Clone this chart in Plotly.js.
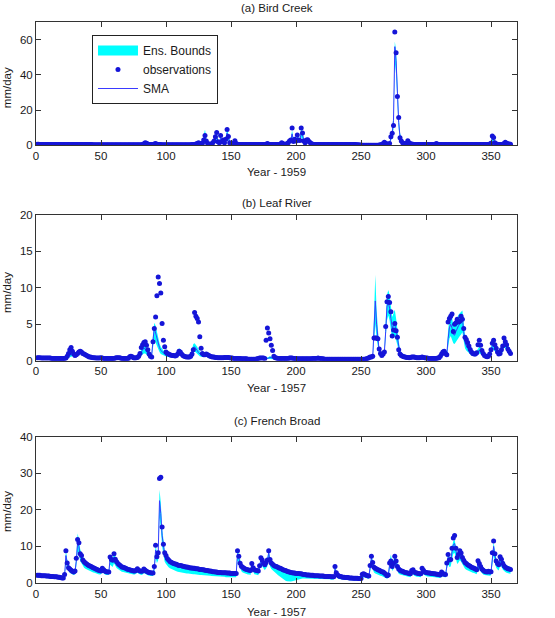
<!DOCTYPE html>
<html>
<head>
<meta charset="utf-8">
<script src="https://cdn.plot.ly/plotly-3.0.1.min.js"></script>
<style>
  html, body { margin: 0; padding: 0; background: #fff; }
  #chart { width: 555px; height: 618px; }
</style>
</head>
<body>
<div id="chart"></div>
<script>
// Daily streamflow (mm/day): observations, SMA simulation and ensemble bounds.

// ---- (a) Bird Creek, 1959 ----
const obsA = [
  0.6,0.6,0.5,0.5,0.5,0.5,0.5,0.4,0.4,0.4,
  0.4,0.4,0.4,0.4,0.4,0.4,0.4,0.4,0.4,0.4,
  0.4,0.4,0.4,0.4,0.4,0.4,0.4,0.4,0.4,0.4,
  0.4,0.4,0.4,0.4,0.4,0.4,0.4,0.4,0.4,0.4,
  0.4,0.4,0.4,0.3,0.3,0.3,0.3,0.3,0.3,0.3,
  0.3,0.3,0.3,0.3,0.3,0.3,0.3,0.3,0.3,0.3,
  0.3,0.3,0.3,0.3,0.3,0.3,0.3,0.3,0.3,0.3,
  0.3,0.3,0.3,0.3,0.3,0.3,0.3,0.3,0.3,0.3,
  0.3,0.4,0.9,1.5,1.1,0.7,0.5,0.4,0.4,0.4,
  0.7,1.0,0.6,0.4,0.4,0.4,0.3,0.3,0.3,0.3,
  0.3,0.3,0.3,0.3,0.3,0.3,0.3,0.3,0.3,0.3,
  0.3,0.3,0.3,0.3,0.3,0.3,0.3,0.3,0.3,0.4,
  0.4,0.5,0.7,1.0,1.5,1.0,0.8,1.2,3.0,5.5,
  2.5,1.0,0.7,0.6,0.8,1.5,2.5,4.9,7.2,2.0,
  1.5,5.5,2.0,3.0,1.5,3.5,9.0,5.0,1.5,0.9,
  0.8,1.2,2.6,1.0,0.6,0.5,0.5,0.4,0.4,0.4,
  0.4,0.4,0.4,0.4,0.4,0.4,0.4,0.4,0.4,0.4,
  0.4,0.4,0.4,0.4,0.4,0.4,0.6,1.0,0.6,0.4,
  0.4,0.4,0.4,0.4,0.4,0.4,0.5,0.8,1.5,1.0,
  0.5,0.6,0.9,1.5,2.5,3.0,9.8,2.2,3.4,2.5,
  5.8,3.0,2.8,9.8,7.0,2.5,1.5,3.0,3.2,2.2,
  1.5,0.9,0.6,0.5,0.5,0.4,0.4,0.4,0.4,0.4,
  0.4,0.4,0.4,0.4,0.4,0.4,0.4,0.4,0.4,0.4,
  0.4,0.4,0.4,0.4,0.4,0.4,0.4,0.4,0.4,0.4,
  0.4,0.4,0.4,0.4,0.4,0.4,0.3,0.3,0.2,0.2,
  0.1,0.1,0.1,0.1,0.1,0.1,0.1,0.1,0.1,0.1,
  0.1,0.1,0.1,0.2,0.3,0.5,1.0,1.7,1.2,0.8,
  0.6,1.0,4.9,6.8,11.3,64.3,52.5,27.7,15.8,4.3,
  2.5,1.5,1.0,0.8,1.2,2.6,1.5,0.9,0.7,0.6,
  0.5,0.5,0.5,0.5,0.4,0.4,0.4,0.4,0.4,0.4,
  0.4,0.4,0.4,0.4,0.4,0.4,0.6,1.0,0.6,0.4,
  0.4,0.4,0.4,0.4,0.4,0.4,0.4,0.4,0.4,0.4,
  0.4,0.4,0.4,0.4,0.4,0.4,0.4,0.4,0.4,0.4,
  0.4,0.4,0.4,0.4,0.4,0.4,0.4,0.4,0.4,0.4,
  0.4,0.4,0.4,0.4,0.4,0.4,0.4,0.5,0.8,1.2,
  5.3,4.5,1.5,0.8,0.6,0.5,0.5,0.5,0.6,1.0,
  1.7,1.2,0.9,0.7,0.6
];
const smaA = [
  0.5,0.5,0.5,0.5,0.4,0.4,0.4,0.4,0.4,0.4,
  0.4,0.4,0.4,0.4,0.4,0.4,0.4,0.4,0.4,0.4,
  0.4,0.4,0.4,0.4,0.4,0.4,0.4,0.4,0.4,0.4,
  0.4,0.4,0.4,0.4,0.4,0.4,0.4,0.4,0.4,0.4,
  0.3,0.3,0.3,0.3,0.3,0.3,0.3,0.3,0.3,0.3,
  0.3,0.3,0.3,0.3,0.3,0.3,0.3,0.3,0.3,0.3,
  0.3,0.3,0.3,0.3,0.3,0.3,0.3,0.3,0.3,0.3,
  0.3,0.3,0.3,0.3,0.3,0.3,0.3,0.3,0.3,0.3,
  0.3,0.3,0.6,1.0,0.9,0.6,0.4,0.4,0.3,0.4,
  0.6,0.7,0.5,0.4,0.3,0.3,0.3,0.3,0.3,0.3,
  0.3,0.3,0.3,0.3,0.3,0.3,0.3,0.3,0.3,0.3,
  0.3,0.3,0.3,0.3,0.3,0.3,0.3,0.3,0.3,0.3,
  0.4,0.5,0.7,0.9,1.2,1.0,0.8,1.5,3.5,5.0,
  2.5,1.2,0.8,0.7,0.8,1.3,2.5,4.0,5.0,2.2,
  1.8,4.0,2.2,2.5,1.8,3.5,7.0,4.5,1.8,1.0,
  0.9,1.2,1.8,1.0,0.6,0.5,0.5,0.4,0.4,0.4,
  0.4,0.4,0.4,0.4,0.4,0.4,0.4,0.4,0.4,0.4,
  0.4,0.4,0.4,0.4,0.4,0.4,0.5,0.8,0.6,0.4,
  0.4,0.4,0.4,0.4,0.4,0.4,0.5,0.7,1.2,0.9,
  0.6,0.7,1.0,1.5,2.2,2.8,6.5,3.0,3.0,2.5,
  4.5,3.2,3.0,7.0,6.0,2.8,1.8,2.8,2.8,2.0,
  1.4,0.9,0.6,0.5,0.5,0.4,0.4,0.4,0.4,0.4,
  0.4,0.4,0.4,0.4,0.4,0.4,0.4,0.4,0.4,0.4,
  0.4,0.4,0.4,0.4,0.4,0.4,0.4,0.4,0.4,0.4,
  0.4,0.4,0.4,0.4,0.4,0.4,0.3,0.3,0.2,0.2,
  0.1,0.1,0.1,0.1,0.1,0.1,0.1,0.1,0.1,0.1,
  0.1,0.1,0.1,0.2,0.3,0.5,0.9,1.5,1.1,0.8,
  0.7,1.2,4.0,7.0,14.0,56.0,48.0,26.0,13.0,5.0,
  2.6,1.6,1.1,0.9,1.1,2.0,1.4,0.9,0.7,0.6,
  0.5,0.5,0.5,0.5,0.4,0.4,0.4,0.4,0.4,0.4,
  0.4,0.4,0.4,0.4,0.4,0.4,0.5,0.8,0.6,0.4,
  0.4,0.4,0.4,0.4,0.4,0.4,0.4,0.4,0.4,0.4,
  0.4,0.4,0.4,0.4,0.4,0.4,0.4,0.4,0.4,0.4,
  0.4,0.4,0.4,0.4,0.4,0.4,0.4,0.4,0.4,0.4,
  0.4,0.4,0.4,0.4,0.4,0.4,0.4,0.5,0.7,1.1,
  4.2,3.5,1.5,0.8,0.6,0.5,0.5,0.5,0.6,0.9,
  1.4,1.1,0.8,0.7,0.6
];
const loA = [
  0.3,0.3,0.3,0.3,0.2,0.2,0.2,0.2,0.2,0.2,
  0.2,0.2,0.2,0.2,0.2,0.2,0.2,0.2,0.2,0.2,
  0.2,0.2,0.2,0.2,0.2,0.2,0.2,0.2,0.2,0.2,
  0.2,0.2,0.2,0.2,0.2,0.2,0.2,0.2,0.2,0.2,
  0.1,0.1,0.1,0.1,0.1,0.1,0.1,0.1,0.1,0.1,
  0.1,0.1,0.1,0.1,0.1,0.1,0.1,0.1,0.1,0.1,
  0.1,0.1,0.1,0.1,0.1,0.1,0.1,0.1,0.1,0.1,
  0.1,0.1,0.1,0.1,0.1,0.1,0.1,0.1,0.1,0.1,
  0.1,0.1,0.3,0.6,0.5,0.3,0.2,0.2,0.1,0.2,
  0.3,0.4,0.3,0.2,0.1,0.1,0.1,0.1,0.1,0.1,
  0.1,0.1,0.1,0.1,0.1,0.1,0.1,0.1,0.1,0.1,
  0.1,0.1,0.1,0.1,0.1,0.1,0.1,0.1,0.1,0.1,
  0.2,0.3,0.4,0.5,0.7,0.6,0.5,0.8,2.0,3.0,
  1.4,0.7,0.5,0.4,0.5,0.8,1.4,2.4,3.0,1.2,
  1.0,2.4,1.2,1.4,1.0,2.0,4.5,2.6,1.0,0.6,
  0.5,0.7,1.0,0.6,0.3,0.3,0.3,0.2,0.2,0.2,
  0.2,0.2,0.2,0.2,0.2,0.2,0.2,0.2,0.2,0.2,
  0.2,0.2,0.2,0.2,0.2,0.2,0.3,0.5,0.3,0.2,
  0.2,0.2,0.2,0.2,0.2,0.2,0.3,0.4,0.7,0.5,
  0.3,0.4,0.6,0.9,1.3,1.6,4.0,1.8,1.8,1.4,
  2.8,1.9,1.8,4.5,3.6,1.6,1.0,1.6,1.6,1.1,
  0.8,0.5,0.3,0.3,0.3,0.2,0.2,0.2,0.2,0.2,
  0.2,0.2,0.2,0.2,0.2,0.2,0.2,0.2,0.2,0.2,
  0.2,0.2,0.2,0.2,0.2,0.2,0.2,0.2,0.2,0.2,
  0.2,0.2,0.2,0.2,0.2,0.2,0.1,0.1,0.1,0.1,
  0.0,0.0,0.0,0.0,0.0,0.0,0.0,0.0,0.0,0.0,
  0.0,0.0,0.0,0.1,0.1,0.3,0.5,0.9,0.6,0.4,
  0.4,0.7,2.5,4.5,9.0,47.0,40.0,20.0,9.0,3.0,
  1.5,0.9,0.6,0.5,0.6,1.2,0.8,0.5,0.4,0.3,
  0.3,0.3,0.3,0.3,0.2,0.2,0.2,0.2,0.2,0.2,
  0.2,0.2,0.2,0.2,0.2,0.2,0.3,0.5,0.3,0.2,
  0.2,0.2,0.2,0.2,0.2,0.2,0.2,0.2,0.2,0.2,
  0.2,0.2,0.2,0.2,0.2,0.2,0.2,0.2,0.2,0.2,
  0.2,0.2,0.2,0.2,0.2,0.2,0.2,0.2,0.2,0.2,
  0.2,0.2,0.2,0.2,0.2,0.2,0.2,0.3,0.4,0.6,
  2.5,2.0,0.8,0.5,0.3,0.3,0.3,0.3,0.3,0.5,
  0.8,0.6,0.5,0.4,0.3
];
const hiA = [
  0.8,0.8,0.8,0.7,0.7,0.6,0.6,0.6,0.6,0.6,
  0.6,0.6,0.6,0.6,0.6,0.6,0.6,0.6,0.6,0.6,
  0.6,0.6,0.6,0.6,0.6,0.6,0.6,0.6,0.6,0.6,
  0.6,0.6,0.6,0.6,0.6,0.6,0.6,0.6,0.6,0.6,
  0.5,0.5,0.5,0.5,0.5,0.5,0.5,0.5,0.5,0.5,
  0.5,0.5,0.5,0.5,0.5,0.5,0.5,0.5,0.5,0.5,
  0.5,0.5,0.5,0.5,0.5,0.5,0.5,0.5,0.5,0.5,
  0.5,0.5,0.5,0.5,0.5,0.5,0.5,0.5,0.5,0.5,
  0.5,0.5,1.0,1.6,1.4,1.0,0.7,0.6,0.5,0.6,
  1.0,1.1,0.8,0.6,0.5,0.5,0.5,0.5,0.5,0.5,
  0.5,0.5,0.5,0.5,0.5,0.5,0.5,0.5,0.5,0.5,
  0.5,0.5,0.5,0.5,0.5,0.5,0.5,0.5,0.5,0.5,
  0.6,0.8,1.1,1.4,1.8,1.5,1.2,2.4,6.0,9.0,
  4.0,1.8,1.2,1.0,1.2,2.0,3.8,6.0,7.5,3.2,
  2.6,5.5,3.2,3.5,2.6,5.0,9.5,6.5,2.6,1.5,
  1.3,1.8,2.6,1.5,0.9,0.8,0.7,0.6,0.6,0.6,
  0.6,0.6,0.6,0.6,0.6,0.6,0.6,0.6,0.6,0.6,
  0.6,0.6,0.6,0.6,0.6,0.6,0.8,1.2,0.9,0.6,
  0.6,0.6,0.6,0.6,0.6,0.6,0.8,1.1,1.8,1.3,
  0.9,1.0,1.5,2.2,3.2,4.0,8.5,4.2,4.2,3.5,
  6.0,4.5,4.2,9.2,8.0,3.8,2.6,3.8,3.8,2.8,
  2.0,1.3,0.9,0.8,0.7,0.6,0.6,0.6,0.6,0.6,
  0.6,0.6,0.6,0.6,0.6,0.6,0.6,0.6,0.6,0.6,
  0.6,0.6,0.6,0.6,0.6,0.6,0.6,0.6,0.6,0.6,
  0.6,0.6,0.6,0.6,0.6,0.6,0.5,0.5,0.4,0.4,
  0.2,0.2,0.2,0.2,0.2,0.2,0.2,0.2,0.2,0.2,
  0.2,0.2,0.2,0.4,0.5,0.8,1.3,2.1,1.6,1.2,
  1.0,1.8,5.5,9.0,18.0,59.0,54.0,31.0,17.0,7.0,
  3.8,2.4,1.6,1.3,1.6,2.8,2.0,1.3,1.0,0.9,
  0.8,0.8,0.8,0.8,0.6,0.6,0.6,0.6,0.6,0.6,
  0.6,0.6,0.6,0.6,0.6,0.6,0.8,1.2,0.9,0.6,
  0.6,0.6,0.6,0.6,0.6,0.6,0.6,0.6,0.6,0.6,
  0.6,0.6,0.6,0.6,0.6,0.6,0.6,0.6,0.6,0.6,
  0.6,0.6,0.6,0.6,0.6,0.6,0.6,0.6,0.6,0.6,
  0.6,0.6,0.6,0.6,0.6,0.6,0.6,0.8,1.0,1.6,
  6.0,5.0,2.2,1.2,0.9,0.8,0.7,0.7,0.9,1.3,
  2.0,1.6,1.2,1.0,0.9
];

// ---- (b) Leaf River, 1957 ----
const obsB = [
  0.4,0.4,0.4,0.35,0.35,0.35,0.35,0.35,0.35,0.35,
  0.35,0.3,0.3,0.3,0.3,0.3,0.3,0.3,0.3,0.3,
  0.3,0.3,0.35,0.6,1.0,1.5,1.8,1.3,0.9,0.7,
  0.8,1.0,1.2,1.3,1.2,1.0,0.9,0.8,0.7,0.6,
  0.5,0.5,0.45,0.4,0.4,0.35,0.35,0.35,0.35,0.4,
  0.35,0.3,0.3,0.3,0.3,0.3,0.3,0.3,0.3,0.3,
  0.35,0.4,0.4,0.4,0.35,0.3,0.3,0.3,0.3,0.3,
  0.3,0.55,0.6,0.55,0.4,0.35,0.4,0.45,0.6,1.0,
  1.8,2.2,2.5,2.6,2.1,1.5,0.9,0.6,0.5,2.6,
  4.4,6.0,8.9,11.5,10.6,9.3,5.1,2.8,1.9,1.2,
  1.0,0.9,0.8,0.75,0.7,0.7,0.65,0.7,0.9,1.3,
  1.2,0.9,0.7,0.6,0.55,0.5,0.5,0.5,0.6,0.9,
  1.5,6.6,6.1,5.8,5.3,3.3,1.7,1.0,0.8,0.8,
  0.9,0.8,0.7,0.6,0.55,0.5,0.5,0.45,0.45,0.4,
  0.4,0.4,0.4,0.4,0.45,0.45,0.45,0.45,0.4,0.35,
  0.35,0.3,0.3,0.3,0.3,0.3,0.3,0.25,0.25,0.25,
  0.25,0.25,0.2,0.2,0.2,0.2,0.2,0.2,0.2,0.25,
  0.3,0.35,0.35,0.35,0.35,0.3,2.8,4.5,3.8,3.0,
  2.1,1.4,0.6,0.4,0.35,0.3,0.3,0.3,0.3,0.3,
  0.3,0.3,0.3,0.3,0.35,0.35,0.35,0.3,0.3,0.3,
  0.25,0.25,0.25,0.25,0.25,0.25,0.25,0.25,0.25,0.25,
  0.25,0.25,0.3,0.3,0.3,0.3,0.35,0.3,0.3,0.25,
  0.25,0.2,0.2,0.2,0.2,0.2,0.2,0.2,0.2,0.2,
  0.2,0.2,0.2,0.2,0.2,0.2,0.2,0.2,0.2,0.2,
  0.2,0.2,0.2,0.2,0.2,0.2,0.2,0.2,0.2,0.2,
  0.2,0.2,0.2,0.25,0.3,0.4,0.5,0.5,0.6,3.1,
  3.1,3.1,3.0,1.6,1.0,0.7,0.9,1.2,4.7,8.1,
  8.8,8.0,6.7,3.4,4.2,5.1,4.1,3.2,1.5,0.9,
  0.7,0.6,0.55,0.5,0.45,0.45,0.4,0.45,0.5,0.5,
  0.5,0.45,0.4,0.4,0.4,0.45,0.5,0.45,0.4,0.35,
  0.35,0.3,0.3,0.3,0.3,0.3,0.3,0.3,0.35,0.4,
  0.6,0.9,1.2,1.3,1.0,0.8,5.3,5.8,6.1,6.4,
  4.0,5.0,5.2,5.7,5.3,5.4,6.1,5.7,4.4,3.2,
  2.9,2.5,2.0,1.55,1.2,1.0,0.9,0.9,1.1,2.2,
  2.8,2.1,1.4,1.0,0.7,0.6,0.55,0.6,0.9,1.5,
  2.4,2.8,2.2,1.7,1.2,0.9,1.0,1.5,2.0,3.1,
  2.6,2.2,1.6,1.3,1.0
];
const smaB = [
  0.35,0.35,0.35,0.3,0.3,0.3,0.3,0.3,0.3,0.3,
  0.3,0.3,0.3,0.3,0.3,0.25,0.25,0.25,0.25,0.25,
  0.25,0.25,0.3,0.4,0.6,0.8,0.9,0.9,0.8,0.7,
  0.8,1.0,1.2,1.3,1.2,1.0,0.8,0.7,0.6,0.5,
  0.5,0.45,0.4,0.4,0.35,0.35,0.3,0.3,0.3,0.3,
  0.3,0.3,0.3,0.3,0.3,0.3,0.3,0.3,0.3,0.3,
  0.35,0.35,0.35,0.35,0.3,0.3,0.3,0.3,0.3,0.3,
  0.3,0.45,0.5,0.45,0.4,0.35,0.35,0.4,0.5,0.8,
  1.2,1.5,1.7,1.6,1.3,0.9,0.6,0.5,0.8,2.8,
  4.5,3.8,3.0,2.3,1.8,1.4,1.2,1.0,0.9,0.8,
  0.75,0.7,0.65,0.6,0.6,0.6,0.6,0.65,0.9,1.3,
  1.2,0.9,0.7,0.6,0.5,0.5,0.45,0.45,0.6,1.2,
  1.8,1.9,1.7,1.4,1.1,0.9,0.8,0.7,0.7,0.7,
  0.7,0.65,0.6,0.55,0.5,0.5,0.45,0.45,0.4,0.4,
  0.4,0.4,0.4,0.4,0.4,0.4,0.4,0.4,0.35,0.35,
  0.3,0.3,0.3,0.3,0.25,0.25,0.25,0.25,0.2,0.2,
  0.2,0.2,0.2,0.2,0.2,0.2,0.2,0.2,0.2,0.25,
  0.3,0.35,0.4,0.4,0.4,0.35,0.3,0.3,0.35,0.45,
  0.4,0.3,0.3,0.25,0.25,0.25,0.25,0.25,0.25,0.25,
  0.25,0.25,0.25,0.25,0.3,0.3,0.3,0.25,0.25,0.25,
  0.2,0.2,0.2,0.2,0.2,0.2,0.2,0.2,0.2,0.2,
  0.2,0.2,0.25,0.25,0.25,0.25,0.3,0.25,0.25,0.2,
  0.2,0.2,0.2,0.2,0.2,0.2,0.2,0.2,0.2,0.2,
  0.2,0.2,0.2,0.15,0.15,0.15,0.15,0.15,0.15,0.15,
  0.15,0.15,0.15,0.15,0.15,0.15,0.15,0.15,0.15,0.15,
  0.15,0.15,0.15,0.2,0.3,0.5,0.4,0.3,0.4,4.0,
  8.2,5.0,2.5,1.3,0.9,0.7,0.7,1.2,4.0,7.5,
  8.0,7.2,5.8,4.5,4.8,5.0,4.2,3.0,1.8,1.0,
  0.8,0.7,0.6,0.55,0.5,0.45,0.45,0.45,0.5,0.5,
  0.5,0.45,0.4,0.4,0.4,0.45,0.5,0.45,0.4,0.35,
  0.35,0.3,0.3,0.3,0.3,0.3,0.3,0.3,0.35,0.45,
  0.7,1.0,1.2,1.2,1.0,0.9,3.0,4.5,5.0,4.5,
  3.6,3.5,4.0,4.5,4.8,5.0,5.4,5.8,4.0,2.5,
  2.0,1.7,1.4,1.2,1.0,0.9,0.85,0.85,1.0,1.3,
  1.4,1.3,1.1,0.9,0.7,0.6,0.6,0.6,0.8,1.4,
  2.0,2.1,1.8,1.4,1.1,0.9,0.9,1.2,1.7,2.5,
  2.4,2.0,1.6,1.3,1.1
];
const loB = [
  0.25,0.25,0.25,0.2,0.2,0.2,0.2,0.2,0.2,0.2,
  0.2,0.2,0.2,0.2,0.2,0.15,0.15,0.15,0.15,0.15,
  0.15,0.15,0.2,0.25,0.4,0.5,0.6,0.6,0.5,0.45,
  0.5,0.7,0.8,0.9,0.8,0.7,0.55,0.45,0.4,0.35,
  0.35,0.3,0.3,0.3,0.25,0.25,0.2,0.2,0.2,0.2,
  0.2,0.2,0.2,0.2,0.2,0.2,0.2,0.2,0.2,0.2,
  0.25,0.25,0.25,0.25,0.2,0.2,0.2,0.2,0.2,0.2,
  0.2,0.3,0.35,0.3,0.3,0.25,0.25,0.3,0.35,0.5,
  0.7,0.9,1.0,1.0,0.8,0.6,0.4,0.35,0.5,1.8,
  3.0,2.5,2.0,1.6,1.2,0.9,0.8,0.7,0.6,0.55,
  0.5,0.5,0.45,0.4,0.4,0.4,0.4,0.45,0.6,0.9,
  0.8,0.6,0.5,0.4,0.35,0.35,0.3,0.3,0.4,0.8,
  1.2,1.3,1.1,0.9,0.7,0.6,0.55,0.5,0.5,0.5,
  0.5,0.45,0.4,0.4,0.35,0.35,0.3,0.3,0.3,0.3,
  0.3,0.3,0.3,0.3,0.3,0.3,0.3,0.3,0.25,0.25,
  0.2,0.2,0.2,0.2,0.15,0.15,0.15,0.15,0.15,0.15,
  0.15,0.15,0.15,0.15,0.15,0.15,0.15,0.15,0.15,0.2,
  0.2,0.25,0.3,0.3,0.3,0.25,0.2,0.2,0.2,0.25,
  0.2,0.2,0.2,0.15,0.15,0.15,0.15,0.15,0.15,0.15,
  0.15,0.15,0.15,0.15,0.2,0.2,0.2,0.15,0.15,0.15,
  0.1,0.1,0.1,0.1,0.1,0.1,0.1,0.1,0.1,0.1,
  0.1,0.1,0.15,0.15,0.15,0.15,0.2,0.15,0.15,0.1,
  0.1,0.1,0.1,0.1,0.1,0.1,0.1,0.1,0.1,0.1,
  0.1,0.1,0.1,0.1,0.1,0.1,0.1,0.1,0.1,0.1,
  0.1,0.1,0.1,0.1,0.1,0.1,0.1,0.1,0.1,0.1,
  0.1,0.1,0.1,0.1,0.2,0.3,0.3,0.2,0.3,2.5,
  5.0,3.0,1.5,0.8,0.6,0.5,0.5,0.8,2.8,5.5,
  6.2,5.5,4.2,3.0,3.2,3.3,2.8,2.0,1.2,0.7,
  0.55,0.5,0.45,0.4,0.35,0.35,0.35,0.35,0.35,0.35,
  0.35,0.3,0.3,0.3,0.3,0.3,0.35,0.3,0.3,0.25,
  0.25,0.2,0.2,0.2,0.2,0.2,0.2,0.2,0.25,0.3,
  0.5,0.7,0.8,0.8,0.7,0.6,1.8,3.0,3.4,3.0,
  2.4,2.3,2.6,3.0,3.2,3.4,3.6,3.9,2.7,1.7,
  1.4,1.2,1.0,0.85,0.7,0.65,0.6,0.6,0.7,0.9,
  1.0,0.9,0.8,0.65,0.5,0.45,0.45,0.45,0.55,1.0,
  1.4,1.5,1.3,1.0,0.8,0.65,0.65,0.85,1.2,1.8,
  1.7,1.4,1.1,0.9,0.8
];
const hiB = [
  0.5,0.5,0.5,0.45,0.45,0.45,0.45,0.45,0.45,0.45,
  0.45,0.45,0.45,0.45,0.45,0.4,0.4,0.4,0.4,0.4,
  0.4,0.4,0.45,0.6,0.9,1.1,1.2,1.2,1.1,1.0,
  1.1,1.3,1.5,1.6,1.5,1.3,1.1,1.0,0.85,0.75,
  0.7,0.65,0.6,0.55,0.5,0.5,0.45,0.45,0.45,0.45,
  0.45,0.45,0.45,0.45,0.45,0.45,0.45,0.45,0.45,0.45,
  0.5,0.5,0.5,0.5,0.45,0.45,0.45,0.45,0.45,0.45,
  0.45,0.65,0.7,0.65,0.55,0.5,0.5,0.55,0.7,1.1,
  1.6,2.0,2.2,2.1,1.8,1.3,0.9,0.7,1.1,3.6,
  5.2,4.8,3.9,3.0,2.4,1.9,1.6,1.4,1.2,1.1,
  1.0,0.95,0.9,0.85,0.85,0.85,0.85,0.9,1.2,1.7,
  1.6,1.2,1.0,0.8,0.7,0.7,0.65,0.65,0.8,1.6,
  2.3,2.4,2.2,1.9,1.5,1.2,1.1,1.0,1.0,1.0,
  0.95,0.9,0.85,0.75,0.7,0.7,0.65,0.65,0.6,0.6,
  0.6,0.6,0.6,0.6,0.6,0.6,0.6,0.6,0.5,0.5,
  0.45,0.45,0.45,0.45,0.4,0.4,0.4,0.4,0.35,0.35,
  0.35,0.35,0.35,0.35,0.35,0.35,0.35,0.35,0.35,0.4,
  0.45,0.5,0.55,0.55,0.55,0.5,0.45,0.45,0.5,0.65,
  0.55,0.45,0.45,0.4,0.4,0.4,0.4,0.4,0.4,0.4,
  0.4,0.4,0.4,0.4,0.45,0.45,0.45,0.4,0.4,0.4,
  0.35,0.35,0.35,0.35,0.35,0.35,0.35,0.35,0.35,0.35,
  0.35,0.35,0.4,0.4,0.4,0.4,0.45,0.4,0.4,0.35,
  0.35,0.35,0.35,0.35,0.35,0.35,0.35,0.35,0.35,0.35,
  0.35,0.35,0.35,0.3,0.3,0.3,0.3,0.3,0.3,0.3,
  0.3,0.3,0.3,0.3,0.3,0.3,0.3,0.3,0.3,0.3,
  0.3,0.3,0.3,0.35,0.45,0.7,0.55,0.45,0.6,6.0,
  11.8,7.0,3.5,1.8,1.3,1.0,1.0,1.6,5.5,9.0,
  9.7,9.0,7.5,6.0,6.5,7.0,5.8,4.2,2.5,1.4,
  1.1,0.95,0.85,0.75,0.7,0.65,0.65,0.65,0.7,0.7,
  0.7,0.65,0.6,0.6,0.6,0.65,0.7,0.65,0.6,0.5,
  0.5,0.45,0.45,0.45,0.45,0.45,0.45,0.45,0.5,0.65,
  1.0,1.4,1.6,1.6,1.4,1.2,4.2,5.8,6.4,6.0,
  4.8,4.7,5.4,6.0,6.3,6.5,6.8,6.9,5.3,3.4,
  2.7,2.3,1.9,1.6,1.35,1.2,1.15,1.15,1.35,1.7,
  1.9,1.8,1.5,1.2,0.95,0.8,0.8,0.8,1.1,1.9,
  2.6,2.7,2.4,1.9,1.5,1.2,1.2,1.6,2.2,3.2,
  3.1,2.6,2.1,1.8,1.5
];

// ---- (c) French Broad, 1957 ----
const obsC = [
  2.1,2.1,2.1,2.0,2.0,2.0,2.0,1.9,1.9,1.9,
  1.8,1.8,1.8,1.7,1.7,1.7,1.6,1.6,1.5,1.4,
  1.4,2.3,8.8,5.5,4.2,3.8,3.5,3.2,3.0,3.3,
  6.8,11.9,11.0,8.0,7.5,6.3,5.8,5.5,5.2,4.9,
  4.7,4.6,4.4,4.2,4.0,3.8,3.7,3.5,3.4,3.3,
  4.0,3.6,3.3,3.1,3.0,3.0,7.1,6.4,6.2,8.0,
  6.5,5.8,5.3,5.0,4.7,4.4,4.3,4.2,4.0,3.8,
  3.7,3.6,3.5,3.4,3.3,3.3,3.5,3.9,3.5,3.3,
  3.2,3.3,3.8,3.5,3.2,3.0,2.9,2.8,2.7,2.7,
  4.5,10.3,7.2,8.3,28.6,28.9,15.3,10.6,8.3,7.5,
  6.7,6.3,5.9,5.7,5.5,5.3,5.2,5.1,4.9,4.8,
  4.8,4.7,4.6,4.5,4.4,4.4,4.3,4.2,4.1,4.1,
  4.0,4.0,3.9,3.9,3.8,3.7,3.7,3.6,3.6,3.5,
  3.4,3.4,3.3,3.3,3.2,3.1,3.1,3.0,3.0,2.9,
  2.9,2.9,2.8,2.8,2.8,2.8,2.7,2.7,2.7,2.6,
  2.6,2.6,2.6,2.6,8.8,7.3,5.4,4.6,4.3,4.0,
  3.8,3.7,3.6,3.5,3.4,5.3,4.2,3.6,3.5,3.4,
  3.3,4.7,6.9,6.3,5.4,5.0,5.6,6.3,8.8,6.4,
  5.5,5.1,4.8,4.6,4.5,4.3,4.1,4.0,3.8,3.6,
  3.5,3.4,3.2,3.1,3.0,2.9,2.8,2.7,2.7,2.6,
  2.6,2.6,2.5,2.5,2.4,2.3,2.3,2.2,2.2,2.2,
  2.1,2.1,2.1,2.0,2.0,2.0,2.0,1.9,1.9,1.9,
  1.9,1.8,1.8,1.8,1.8,1.8,1.7,1.7,1.7,4.5,
  2.8,2.2,1.9,1.8,1.7,1.6,1.6,1.5,1.5,1.5,
  1.4,1.4,1.4,1.3,1.3,1.3,1.3,1.2,1.2,1.2,
  2.4,2.5,2.3,2.1,2.0,1.9,4.8,7.3,5.6,4.3,
  4.0,3.8,3.6,3.5,3.3,3.1,3.0,2.7,2.4,2.0,
  2.2,5.5,6.0,4.5,5.3,7.3,6.0,4.5,3.8,3.5,
  3.3,3.2,3.0,2.9,2.8,2.7,2.6,2.5,3.4,3.6,
  3.0,2.8,2.7,2.6,2.5,2.5,4.0,3.5,3.0,2.9,
  2.8,2.7,2.7,2.6,2.6,2.5,2.5,2.4,2.4,2.3,
  2.2,3.0,2.6,2.4,2.3,5.5,7.8,6.3,6.4,9.5,
  12.3,13.0,9.5,7.0,7.8,8.8,8.2,7.0,6.2,5.6,
  5.3,5.0,4.8,4.6,4.3,4.2,4.0,3.8,3.6,6.1,
  5.3,4.5,3.8,3.5,3.2,3.1,3.0,3.2,3.0,3.1,
  8.3,11.5,8.0,6.0,5.3,5.0,7.2,6.5,5.4,4.7,
  4.3,4.1,3.9,3.8,3.7
];
const smaC = [
  2.0,2.0,2.0,1.9,1.9,1.9,1.9,1.8,1.8,1.8,
  1.7,1.7,1.7,1.6,1.6,1.6,1.5,1.5,1.4,1.4,
  1.3,2.0,7.5,5.5,4.3,3.8,3.5,3.2,3.0,3.2,
  6.0,11.0,10.0,7.8,7.0,6.0,5.5,5.2,4.9,4.6,
  4.4,4.3,4.1,3.9,3.8,3.6,3.5,3.3,3.2,3.3,
  4.0,3.5,3.2,3.0,2.9,3.0,6.5,6.0,5.8,7.0,
  6.0,5.4,5.0,4.7,4.4,4.2,4.1,4.0,3.8,3.6,
  3.5,3.4,3.3,3.2,3.2,3.2,3.5,3.8,3.4,3.2,
  3.1,3.2,3.7,3.4,3.1,2.9,2.8,2.7,2.6,2.6,
  4.0,9.0,7.0,8.0,22.5,19.0,13.0,9.5,7.8,7.0,
  6.3,5.9,5.6,5.3,5.1,5.0,4.8,4.7,4.6,4.5,
  4.4,4.3,4.2,4.1,4.0,4.0,3.9,3.8,3.8,3.7,
  3.7,3.6,3.6,3.5,3.5,3.4,3.4,3.3,3.3,3.2,
  3.2,3.1,3.1,3.0,3.0,2.9,2.9,2.8,2.8,2.7,
  2.7,2.7,2.6,2.6,2.6,2.5,2.5,2.5,2.4,2.4,
  2.4,2.4,2.4,2.4,8.0,6.8,5.0,4.4,4.0,3.8,
  3.6,3.5,3.4,3.3,3.2,5.0,4.0,3.4,3.3,3.2,
  3.1,4.4,6.5,6.0,5.2,4.8,5.3,6.0,8.2,6.0,
  5.2,4.8,4.5,4.3,4.1,4.0,3.8,3.6,3.5,3.3,
  3.2,3.1,3.0,2.9,2.8,2.7,2.6,2.5,2.5,2.4,
  2.4,2.3,2.3,2.2,2.2,2.1,2.1,2.0,2.0,2.0,
  1.9,1.9,1.9,1.8,1.8,1.8,1.8,1.7,1.7,1.7,
  1.7,1.6,1.6,1.6,1.6,1.6,1.5,1.5,1.5,3.8,
  2.6,2.0,1.7,1.6,1.5,1.4,1.4,1.3,1.3,1.3,
  1.2,1.2,1.2,1.1,1.1,1.1,1.1,1.0,1.0,1.0,
  2.0,2.3,2.1,1.9,1.8,1.7,4.2,6.8,5.4,4.1,
  3.8,3.6,3.4,3.3,3.1,2.9,2.8,2.5,2.2,1.9,
  2.1,5.0,6.5,4.6,5.2,6.8,5.7,4.3,3.6,3.3,
  3.1,3.0,2.8,2.7,2.6,2.5,2.4,2.3,3.1,3.3,
  2.8,2.6,2.5,2.4,2.3,2.3,3.6,3.2,2.8,2.7,
  2.6,2.5,2.5,2.4,2.4,2.3,2.3,2.2,2.2,2.1,
  2.0,2.7,2.4,2.2,2.1,5.0,7.0,6.0,6.2,8.5,
  10.5,10.8,9.0,7.0,7.6,8.3,7.8,6.8,6.0,5.4,
  5.0,4.8,4.6,4.4,4.1,4.0,3.8,3.6,3.4,5.6,
  5.0,4.3,3.6,3.3,3.1,3.0,2.9,3.0,2.9,3.0,
  7.5,10.0,7.6,5.8,5.1,4.8,6.7,6.2,5.2,4.5,
  4.2,4.0,3.8,3.7,3.6
];
const loC = [
  1.5,1.5,1.5,1.4,1.4,1.4,1.4,1.3,1.3,1.3,
  1.2,1.2,1.2,1.1,1.1,1.1,1.0,1.0,0.9,0.9,
  0.9,1.4,5.5,4.2,3.2,2.8,2.6,2.4,2.2,2.4,
  4.5,8.5,7.8,6.0,5.4,4.6,4.2,3.9,3.7,3.5,
  3.3,3.2,3.0,2.9,2.8,2.6,2.5,2.4,2.3,2.4,
  3.0,2.6,2.3,2.2,2.1,2.2,5.0,4.6,4.4,5.4,
  4.6,4.1,3.8,3.5,3.3,3.1,3.0,2.9,2.8,2.6,
  2.5,2.5,2.4,2.3,2.3,2.3,2.5,2.8,2.5,2.3,
  2.2,2.3,2.7,2.5,2.2,2.1,2.0,1.9,1.9,1.9,
  3.0,7.0,5.4,6.2,18.0,15.0,10.0,7.2,5.8,5.2,
  4.6,4.3,4.0,3.8,3.6,3.5,3.3,3.2,3.1,3.0,
  3.0,2.9,2.8,2.7,2.7,2.6,2.6,2.5,2.5,2.4,
  2.4,2.4,2.3,2.3,2.3,2.2,2.2,2.2,2.1,2.1,
  2.1,2.0,2.0,2.0,1.9,1.9,1.9,1.8,1.8,1.8,
  1.8,1.8,1.7,1.7,1.7,1.6,1.6,1.6,1.6,1.6,
  1.6,1.6,1.6,1.6,6.2,5.2,3.8,3.2,2.9,2.7,
  2.5,2.4,2.3,2.3,2.2,3.8,3.0,2.4,2.3,2.2,
  2.1,3.3,5.0,4.6,3.9,3.5,4.0,4.6,6.4,4.5,
  3.8,3.4,3.1,2.8,2.5,2.2,1.9,1.6,1.3,1.0,
  0.8,0.6,0.5,0.4,0.4,0.4,0.5,0.6,0.8,0.9,
  1.0,1.1,1.1,1.1,1.2,1.2,1.2,1.2,1.2,1.2,
  1.2,1.2,1.2,1.2,1.2,1.2,1.2,1.1,1.1,1.1,
  1.1,1.0,1.0,1.0,1.0,1.0,0.9,0.9,0.9,2.8,
  1.8,1.3,1.1,1.0,0.9,0.9,0.8,0.8,0.8,0.8,
  0.7,0.7,0.7,0.6,0.6,0.6,0.6,0.6,0.6,0.6,
  1.3,1.6,1.5,1.3,1.2,1.1,3.0,5.0,3.9,2.9,
  2.6,2.4,2.3,2.2,2.0,1.9,1.8,1.6,1.4,1.2,
  1.4,3.6,4.8,3.3,3.8,5.0,4.1,3.1,2.5,2.3,
  2.2,2.1,1.9,1.9,1.8,1.7,1.6,1.6,2.2,2.4,
  2.0,1.8,1.7,1.7,1.6,1.6,2.6,2.3,2.0,1.9,
  1.8,1.8,1.7,1.7,1.7,1.6,1.6,1.5,1.5,1.5,
  1.4,1.9,1.7,1.5,1.5,3.6,5.2,4.4,4.5,6.4,
  8.0,8.2,6.8,5.2,5.6,6.2,5.8,5.0,4.4,3.9,
  3.6,3.4,3.3,3.1,2.9,2.8,2.7,2.5,2.4,4.0,
  3.6,3.1,2.6,2.3,2.2,2.1,2.0,2.1,2.0,2.1,
  5.5,7.5,5.5,4.2,3.7,3.4,4.8,4.5,3.7,3.2,
  3.0,2.8,2.7,2.6,2.5
];
const hiC = [
  2.3,2.3,2.3,2.2,2.2,2.2,2.2,2.1,2.1,2.1,
  2.0,2.0,2.0,1.9,1.9,1.9,1.8,1.8,1.7,1.7,
  1.6,2.5,9.0,6.5,5.0,4.5,4.1,3.8,3.5,3.8,
  7.2,13.5,12.0,9.2,8.2,7.0,6.4,6.0,5.7,5.4,
  5.1,5.0,4.8,4.6,4.4,4.2,4.0,3.8,3.7,3.8,
  4.6,4.0,3.7,3.5,3.3,3.5,7.5,7.0,6.7,8.2,
  7.0,6.3,5.8,5.4,5.1,4.8,4.7,4.6,4.4,4.2,
  4.0,3.9,3.8,3.7,3.7,3.7,4.0,4.4,3.9,3.7,
  3.6,3.7,4.3,3.9,3.6,3.4,3.2,3.1,3.0,3.0,
  4.8,10.5,8.2,9.3,25.5,22.0,15.0,11.0,9.0,8.1,
  7.3,6.8,6.5,6.1,5.9,5.8,5.6,5.4,5.3,5.2,
  5.1,5.0,4.9,4.8,4.6,4.6,4.5,4.4,4.4,4.3,
  4.3,4.2,4.2,4.1,4.1,4.0,4.0,3.9,3.9,3.8,
  3.8,3.7,3.7,3.6,3.6,3.5,3.5,3.4,3.4,3.3,
  3.3,3.3,3.2,3.2,3.2,3.1,3.1,3.1,3.0,3.0,
  3.0,3.0,3.0,3.0,9.2,7.8,5.8,5.1,4.6,4.4,
  4.2,4.1,4.0,3.9,3.8,5.8,4.6,4.0,3.9,3.8,
  3.7,5.1,7.5,6.9,6.0,5.6,6.1,6.9,9.4,6.9,
  6.0,5.6,5.2,5.0,4.8,4.6,4.4,4.2,4.0,3.8,
  3.7,3.6,3.5,3.4,3.3,3.2,3.1,3.0,3.0,2.9,
  2.9,2.8,2.8,2.7,2.7,2.6,2.6,2.5,2.5,2.5,
  2.4,2.4,2.4,2.3,2.3,2.3,2.3,2.2,2.2,2.2,
  2.2,2.1,2.1,2.1,2.1,2.1,2.0,2.0,2.0,4.6,
  3.2,2.5,2.2,2.1,2.0,1.9,1.9,1.8,1.8,1.8,
  1.7,1.7,1.7,1.6,1.6,1.6,1.6,1.5,1.5,1.5,
  2.6,2.9,2.7,2.5,2.4,2.3,5.0,7.8,6.2,4.8,
  4.5,4.3,4.1,3.9,3.7,3.5,3.4,3.1,2.8,2.5,
  2.7,6.0,7.8,5.6,6.2,7.8,6.7,5.1,4.3,4.0,
  3.8,3.6,3.4,3.3,3.2,3.1,3.0,2.9,3.8,4.0,
  3.4,3.2,3.1,3.0,2.9,2.9,4.3,3.9,3.4,3.3,
  3.2,3.1,3.1,3.0,3.0,2.9,2.9,2.8,2.8,2.7,
  2.6,3.4,3.0,2.8,2.7,6.0,8.0,7.0,7.2,9.8,
  11.5,11.8,10.2,8.2,8.8,9.5,9.0,8.0,7.0,6.4,
  6.0,5.7,5.5,5.3,5.0,4.8,4.6,4.4,4.2,6.4,
  5.8,5.1,4.4,4.1,3.8,3.7,3.6,3.7,3.6,3.7,
  8.5,11.2,8.8,6.8,6.1,5.8,7.7,7.2,6.1,5.4,
  5.0,4.8,4.6,4.5,4.4
];

// Panel titles, axis labels and scales
const panelTitles = ['(a) Bird Creek', '(b) Leaf River', '(c) French Broad'];
const xLabels = ['Year - 1959', 'Year - 1957', 'Year - 1957'];
const yLabel = 'mm/day';
const xTicks = [0, 50, 100, 150, 200, 250, 300, 350];
const yMax = [70, 20, 40];
const yStep = [20, 5, 10];

const days = obsA.map((_, i) => i + 1);

const CYAN = '#00ffff';
const OBS_BLUE = '#1515d8';
const SMA_BLUE = '#3a3aff';
const FONT = 'Liberation Sans, Arial, Helvetica, sans-serif';

const panels = [
  {obs: obsA, sma: smaA, lo: loA, hi: hiA},
  {obs: obsB, sma: smaB, lo: loB, hi: hiB},
  {obs: obsC, sma: smaC, lo: loC, hi: hiC}
];

const traces = [];
panels.forEach((p, k) => {
  const xa = k === 0 ? 'x' : 'x' + (k + 1);
  const ya = k === 0 ? 'y' : 'y' + (k + 1);
  const first = k === 0;
  traces.push({
    x: days, y: p.lo, xaxis: xa, yaxis: ya, type: 'scatter', mode: 'lines',
    line: {width: 0, color: CYAN}, showlegend: false, hoverinfo: 'skip'
  });
  traces.push({
    x: days, y: p.hi, xaxis: xa, yaxis: ya, type: 'scatter', mode: 'lines',
    fill: 'tonexty', fillcolor: CYAN, line: {width: 0, color: CYAN},
    name: 'Ens. Bounds', legendgroup: 'ens', showlegend: false
  });
  traces.push({
    x: days, y: p.sma, xaxis: xa, yaxis: ya, type: 'scatter', mode: 'lines',
    line: {width: 1, color: SMA_BLUE},
    name: 'SMA', legendgroup: 'sma', showlegend: first, legendrank: 3
  });
  traces.push({
    x: days, y: p.obs, xaxis: xa, yaxis: ya, type: 'scatter', mode: 'markers',
    marker: {size: 5, color: OBS_BLUE, line: {width: 0}},
    name: 'observations', legendgroup: 'obs', showlegend: first, legendrank: 2
  });
});
// Legend key for the ensemble band: a broad cyan bar (no data of its own)
traces.push({
  x: [null], y: [null], xaxis: 'x', yaxis: 'y', type: 'scatter', mode: 'lines',
  line: {width: 12, color: CYAN}, name: 'Ens. Bounds', legendgroup: 'ens',
  showlegend: true, legendrank: 1, hoverinfo: 'skip'
});

// Plot-area geometry (paper fractions of the region inside the margins)
const domains = [[0.7802, 1.0], [0.3963, 0.656], [0.0, 0.2608]];
const tickFont = {family: FONT, size: 11.5, color: '#1a1a1a'};

function xAxis(k) {
  return {
    domain: [0, 1], range: [0, 370], anchor: k === 0 ? 'y' : 'y' + (k + 1),
    tickmode: 'array', tickvals: xTicks, ticktext: xTicks.map(String),
    ticks: 'inside', ticklen: 5, tickwidth: 1, tickcolor: '#333',
    showline: true, linecolor: '#333', linewidth: 1, mirror: 'ticks',
    showgrid: false, zeroline: false, tickfont: tickFont, fixedrange: true
  };
}
function yAxis(k) {
  return {
    domain: domains[k], range: [0, yMax[k]], anchor: k === 0 ? 'x' : 'x' + (k + 1),
    tickmode: 'linear', tick0: 0, dtick: yStep[k],
    ticks: 'inside', ticklen: 5, tickwidth: 1, tickcolor: '#333',
    showline: true, linecolor: '#333', linewidth: 1, mirror: 'ticks',
    showgrid: false, zeroline: false, tickfont: tickFont, fixedrange: true
  };
}

const textFont = {family: FONT, size: 11.5, color: '#1a1a1a'};
const annotations = [];
// panel titles above each frame
const titleShift = [14.5, 12.3, 16];
// axis label positions
const xLabelShift = [-27, -27.5, -28.5];
const yLabelCenter = [0.882, 0.517, 0.1266];
panelTitles.forEach((t, k) => {
  annotations.push({
    text: t, xref: 'paper', yref: 'paper', x: 0.5, y: domains[k][1],
    xanchor: 'center', yanchor: 'middle', yshift: titleShift[k],
    showarrow: false, font: textFont
  });
  annotations.push({
    text: xLabels[k], xref: 'paper', yref: 'paper', x: 0.5, y: domains[k][0],
    xanchor: 'center', yanchor: 'middle', yshift: xLabelShift[k],
    showarrow: false, font: textFont
  });
  annotations.push({
    text: yLabel, xref: 'paper', yref: 'paper', x: 0, y: yLabelCenter[k],
    xanchor: 'center', yanchor: 'middle', xshift: -29, textangle: -90,
    showarrow: false, font: textFont
  });
});

const layout = {
  width: 555, height: 618,
  margin: {l: 36, r: 38, t: 22, b: 35, pad: 0},
  paper_bgcolor: '#ffffff', plot_bgcolor: '#ffffff',
  showlegend: true,
  legend: {
    x: 0.1164, y: 0.9768, xanchor: 'left', yanchor: 'top',
    bgcolor: '#ffffff', bordercolor: '#222', borderwidth: 1,
    font: {family: FONT, size: 12, color: '#1a1a1a'},
    itemwidth: 40, traceorder: 'normal'
  },
  xaxis: xAxis(0), yaxis: yAxis(0),
  xaxis2: xAxis(1), yaxis2: yAxis(1),
  xaxis3: xAxis(2), yaxis3: yAxis(2),
  annotations: annotations
};

Plotly.newPlot('chart', traces, layout, {displayModeBar: false, staticPlot: true});
</script>
</body>
</html>
